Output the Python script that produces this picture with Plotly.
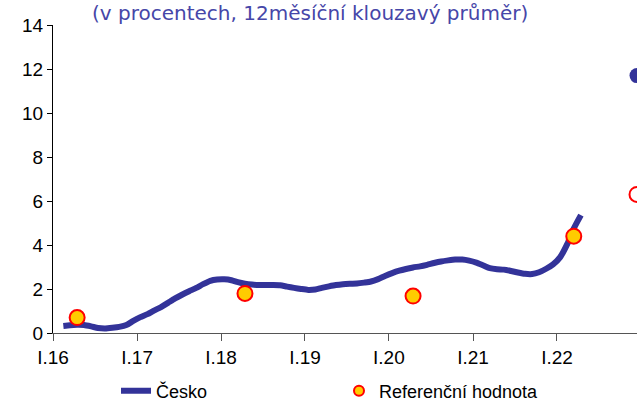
import plotly.graph_objects as go
import pandas as pd

# Monthly 12-month moving average, Jan 2016 .. Mar 2022 (mid-month)
cesko_start = "2016-01-15"
cesko_values = [
    0.32, 0.35, 0.37, 0.36, 0.30, 0.23, 0.21, 0.24, 0.28, 0.36, 0.55, 0.72,
    0.86, 1.02, 1.18, 1.37, 1.57, 1.74, 1.90, 2.05, 2.22, 2.37, 2.43, 2.44,
    2.40, 2.31, 2.24, 2.20, 2.18, 2.18, 2.18, 2.17, 2.11, 2.05, 2.00, 1.96,
    1.98, 2.05, 2.12, 2.18, 2.22, 2.24, 2.25, 2.29, 2.34, 2.45, 2.59, 2.72,
    2.83, 2.91, 2.98, 3.03, 3.10, 3.18, 3.25, 3.30, 3.34, 3.34, 3.29, 3.20,
    3.07, 2.95, 2.90, 2.88, 2.82, 2.75, 2.69, 2.68, 2.76, 2.92, 3.12, 3.45,
    4.05, 4.75, 5.36,
]
ref_dates = ["2016-04-15", "2018-04-15", "2020-04-15", "2022-03-15"]
ref_values = [0.70, 1.80, 1.68, 4.40]

forecast_date = ["2022-12-15"]
cesko_forecast = [11.7]
ref_forecast = [6.3]

tick_dates = ["2016-01-01", "2017-01-01", "2018-01-01", "2019-01-01",
              "2020-01-01", "2021-01-01", "2022-01-01"]
tick_labels = ["I.16", "I.17", "I.18", "I.19", "I.20", "I.21", "I.22"]

title_text = "(v procentech, 12měsíční klouzavý průměr)"
name_cesko = "Česko"
name_ref = "Referenční hodnota"

BLUE = "#333399"
cesko_dates = pd.date_range(cesko_start, periods=len(cesko_values), freq="MS") + pd.Timedelta(days=14)

fig = go.Figure()
fig.add_trace(go.Scatter(
    x=cesko_dates, y=cesko_values, mode="lines", name=name_cesko,
    line=dict(color=BLUE, width=6, shape="spline", smoothing=0.6),
))
fig.add_trace(go.Scatter(
    x=ref_dates, y=ref_values, mode="markers", showlegend=False,
    marker=dict(size=15, color="#FFCC00", line=dict(color="#FF0000", width=2)),
))
fig.add_trace(go.Scatter(
    x=[None], y=[None], mode="markers", name=name_ref,
    marker=dict(size=10, color="#FFCC00", line=dict(color="#FF0000", width=2)),
))
fig.add_trace(go.Scatter(
    x=forecast_date, y=cesko_forecast, mode="markers", showlegend=False,
    marker=dict(size=15, color=BLUE),
))
fig.add_trace(go.Scatter(
    x=forecast_date, y=ref_forecast, mode="markers", showlegend=False,
    marker=dict(size=15, color="white", line=dict(color="#FF0000", width=2)),
))

fig.update_layout(
    width=637, height=401,
    margin=dict(l=53, r=0, t=25, b=68),
    paper_bgcolor="white", plot_bgcolor="white",
    font=dict(family="Liberation Sans, Arial, sans-serif", size=19, color="black"),
    xaxis=dict(
        type="date", range=["2016-01-01", "2022-12-15"],
        tickvals=tick_dates, ticktext=tick_labels,
        showgrid=False, zeroline=False, showline=True, linecolor="#555555", linewidth=1,
        ticks="outside", ticklen=7, tickcolor="#555555",
        tickfont=dict(size=19),
    ),
    yaxis=dict(
        range=[0, 14], dtick=2, showgrid=False, zeroline=False,
        showline=True, linecolor="black", linewidth=1,
        ticks="outside", ticklen=5, tickcolor="black",
        tickfont=dict(size=19),
    ),
    legend=dict(
        orientation="h", xref="container", yref="container",
        x=116 / 637, y=10 / 401, xanchor="left", yanchor="middle",
        font=dict(size=18), entrywidth=178, entrywidthmode="pixels",
        bgcolor="rgba(0,0,0,0)",
    ),
    annotations=[dict(
        text=title_text, xref="paper", yref="paper",
        x=(90 - 53) / 584, y=1, yshift=-2, xanchor="left", yanchor="bottom",
        showarrow=False, font=dict(family="DejaVu Sans", size=20, color="#4646A8"),
    )],
)

fig.write_html(
    "out.html",
    config={"displayModeBar": False},
    post_script="document.body.style.margin='0';document.body.style.overflow='hidden';",
)
